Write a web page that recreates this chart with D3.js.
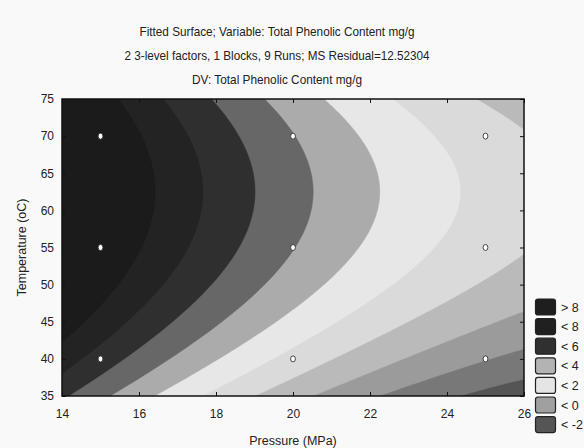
<!DOCTYPE html>
<html>
<head>
<meta charset="utf-8">
<script src="https://cdn.jsdelivr.net/npm/d3@7"></script>
<style>
  html, body { margin: 0; padding: 0; background: #f9f9f9; }
  svg { display: block; }
  text { font-family: "Liberation Sans", Arial, sans-serif; fill: #222; }
</style>
</head>
<body>
<svg id="chart" width="584" height="448"></svg>
<script>
// ---------- data ----------
const titleLines = [
  "Fitted Surface; Variable: Total Phenolic Content mg/g",
  "2 3-level factors, 1 Blocks, 9 Runs; MS Residual=12.52304",
  "DV: Total Phenolic Content mg/g"
];
const xLabel = "Pressure (MPa)";
const yLabel = "Temperature (oC)";
const pressureTicks = [14, 16, 18, 20, 22, 24, 26];
const temperatureTicks = [35, 40, 45, 50, 55, 60, 65, 70, 75];
// design runs (Pressure, Temperature)
const runPressure = [15, 15, 15, 20, 20, 20, 25, 25, 25];
const runTemperature = [40, 55, 70, 40, 55, 70, 40, 55, 70];
// fitted quadratic surface, centred at P=20, T=55:
// [const, P, T, P^2, T^2, P*T]
const surfaceCoefs = [2.07, -1.30, 0.159, 0.052, -0.0106, 0.0];
const contourLevels = [-10, -8, -6, -4, -2, 0, 2, 4, 6, 8];
const bandColors = ["#555555", "#787878", "#9b9b9b", "#bababa", "#dadada",
                    "#e7e7e7", "#ababab", "#676767", "#2f2f2f", "#232323", "#1b1b1b"];
const legendLabels = ["> 8", "< 8", "< 6", "< 4", "< 2", "< 0", "< -2"];
const legendColors = ["#1e1e1e", "#202020", "#303030", "#b3b3b3", "#e5e5e5", "#a0a0a0", "#555555"];

// ---------- layout ----------
const svg = d3.select("#chart");
const X0 = 62, X1 = 524, Y0 = 99, Y1 = 396;
const x = d3.scaleLinear().domain([14, 26]).range([X0, X1]);
const y = d3.scaleLinear().domain([35, 75]).range([Y1, Y0]);

// title
const titleY = [36, 60, 84];
const titleW = [275, 305, 170];
titleLines.forEach((t, i) => {
  svg.append("text")
    .attr("x", 277).attr("y", titleY[i])
    .attr("text-anchor", "middle")
    .attr("font-size", 13)
    .attr("textLength", titleW[i])
    .attr("lengthAdjust", "spacingAndGlyphs")
    .text(t);
});

// surface grid
const surface = (P, T) => {
  const p = P - 20, t = T - 55, c = surfaceCoefs;
  return c[0] + c[1] * p + c[2] * t + c[3] * p * p + c[4] * t * t + c[5] * p * t;
};
const P0 = 13.5, P1 = 26.5, dp = 0.05;
const T0 = 34.5, T1 = 75.5, dt = 0.1;
const nx = Math.round((P1 - P0) / dp) + 1;
const ny = Math.round((T1 - T0) / dt) + 1;
const grid = new Array(nx * ny);
for (let j = 0; j < ny; j++)
  for (let i = 0; i < nx; i++)
    grid[j * nx + i] = surface(P0 + i * dp, T0 + j * dt);

const contours = d3.contours().size([nx, ny]).thresholds(contourLevels)(grid);
const color = d3.scaleThreshold().domain(contourLevels).range(bandColors);
const path = d3.geoPath(d3.geoTransform({
  point(gx, gy) { this.stream.point(x(P0 + (gx - 0.5) * dp), y(T0 + (gy - 0.5) * dt)); }
}));

svg.append("clipPath").attr("id", "plotClip")
  .append("rect").attr("x", X0).attr("y", Y0).attr("width", X1 - X0).attr("height", Y1 - Y0);

const plot = svg.append("g").attr("clip-path", "url(#plotClip)");
plot.append("rect").attr("x", X0).attr("y", Y0).attr("width", X1 - X0).attr("height", Y1 - Y0)
  .attr("fill", bandColors[0]);
plot.selectAll("path.band").data(contours).join("path")
  .attr("class", "band")
  .attr("d", path)
  .attr("fill", d => color(d.value))
  .attr("stroke", d => color(d.value))
  .attr("stroke-width", 0.5);

// axes with inward ticks
const tickLen = 4;
const axisBottom = d3.axisBottom(x).tickValues(pressureTicks).tickSizeInner(-tickLen).tickSizeOuter(0).tickPadding(13);
const axisTop = d3.axisTop(x).tickValues(pressureTicks).tickSizeInner(-tickLen).tickSizeOuter(0).tickFormat("");
const axisLeft = d3.axisLeft(y).tickValues(temperatureTicks).tickSizeInner(-tickLen).tickSizeOuter(0).tickPadding(8);
const axisRight = d3.axisRight(y).tickValues(temperatureTicks).tickSizeInner(-tickLen).tickSizeOuter(0).tickFormat("");

function style(g) {
  g.select(".domain").remove();
  g.selectAll(".tick line").attr("stroke", "#111").attr("stroke-width", 1);
  g.selectAll(".tick text").attr("font-size", 12)
    .attr("font-family", "'Liberation Sans', Arial, sans-serif").attr("fill", "#222");
}
svg.append("g").attr("transform", `translate(0,${Y1})`).call(axisBottom).call(style);
svg.append("g").attr("transform", `translate(0,${Y0})`).call(axisTop).call(style);
svg.append("g").attr("transform", `translate(${X0},0)`).call(axisLeft).call(style);
svg.append("g").attr("transform", `translate(${X1},0)`).call(axisRight).call(style);

// frame
svg.append("rect").attr("x", X0).attr("y", Y0).attr("width", X1 - X0).attr("height", Y1 - Y0)
  .attr("fill", "none").attr("stroke", "#111").attr("stroke-width", 1.5);

// design points
svg.selectAll("ellipse.run").data(runPressure.map((p, i) => [p, runTemperature[i]])).join("ellipse")
  .attr("class", "run")
  .attr("cx", d => x(d[0])).attr("cy", d => y(d[1]))
  .attr("rx", 2.4).attr("ry", 3)
  .attr("fill", "#fff").attr("stroke", "#333").attr("stroke-width", 0.9);

// axis titles
svg.append("text").attr("x", (X0 + X1) / 2).attr("y", 445)
  .attr("text-anchor", "middle").attr("font-size", 12.5).text(xLabel);
svg.append("text").attr("transform", `translate(26,${(Y0 + Y1) / 2}) rotate(-90)`)
  .attr("text-anchor", "middle").attr("font-size", 12.5).text(yLabel);

// legend
const lg = svg.append("g");
legendLabels.forEach((lab, i) => {
  const yy = 299 + i * 19.6;
  lg.append("rect").attr("x", 535.5).attr("y", yy).attr("width", 20).attr("height", 16)
    .attr("rx", 2.5).attr("fill", legendColors[i]).attr("stroke", "#222").attr("stroke-width", 1.2);
  lg.append("text").attr("x", 561).attr("y", yy + 12.5).attr("font-size", 12.5).text(lab);
});
</script>
</body>
</html>
